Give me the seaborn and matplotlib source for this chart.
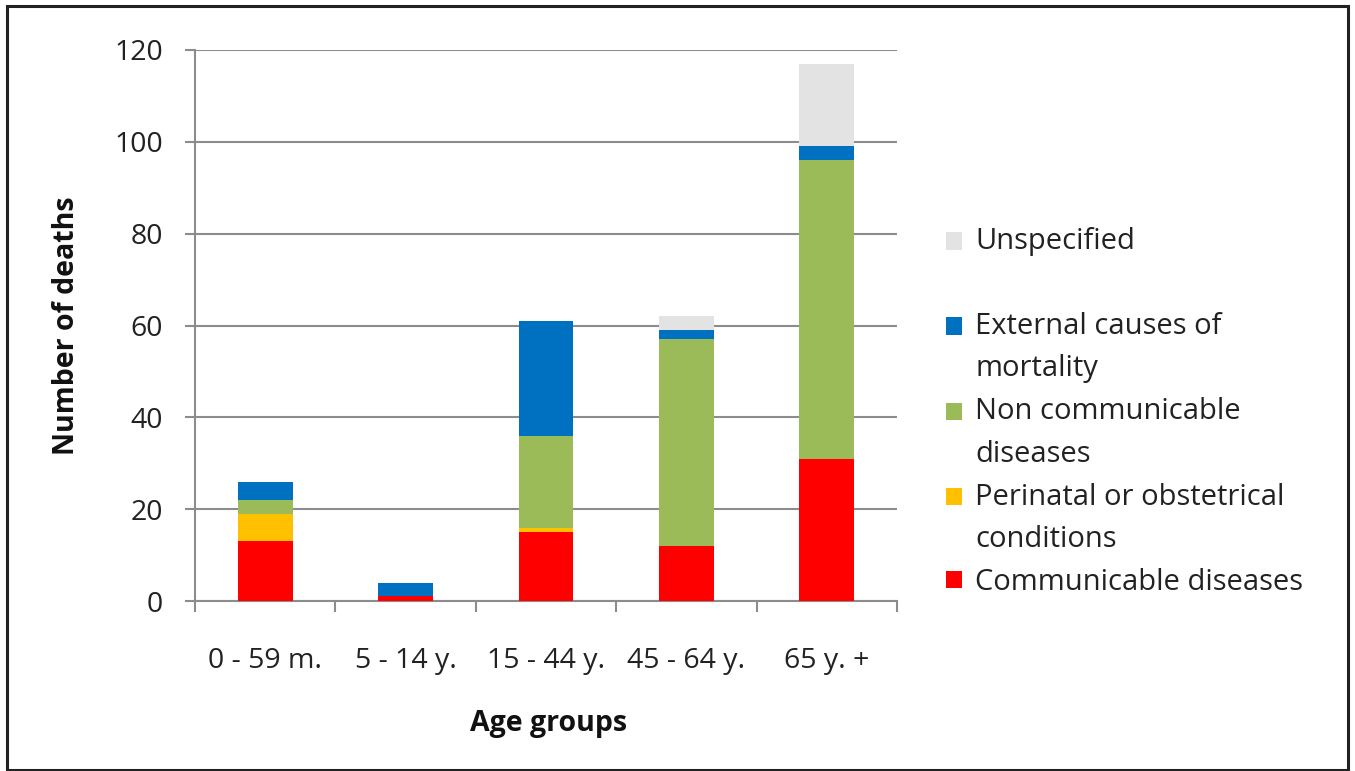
import numpy as np
import pandas as pd
import seaborn as sns
import matplotlib.pyplot as plt
from matplotlib.patches import Patch, Rectangle
from matplotlib.legend_handler import HandlerPatch

sns.set_theme(style="white")
plt.rcParams['font.family'] = ['Open Sans', 'DejaVu Sans']

age_groups = ["0 - 59 m.", "5 - 14 y.", "15 - 44 y.", "45 - 64 y.", "65 y. +"]
communicable = [13, 1, 15, 12, 31]
perinatal = [6, 0, 1, 0, 0]
non_communicable = [3, 0, 20, 45, 65]
external = [4, 3, 25, 2, 3]
unspecified = [0, 0, 0, 3, 18]

series = ["Communicable diseases", "Perinatal or obstetrical conditions",
          "Non communicable diseases", "External causes of mortality", "Unspecified"]
colors = ["#ff0000", "#ffc000", "#9bbb59", "#0070c0", "#e3e3e3"]

df = pd.DataFrame({
    "age": age_groups,
    series[0]: communicable,
    series[1]: perinatal,
    series[2]: non_communicable,
    series[3]: external,
    series[4]: unspecified,
})
cum = df[series].cumsum(axis=1)


class TopPatch(HandlerPatch):
    # put the square next to the first line of a two-line label
    def __init__(self, shift=0):
        super().__init__()
        self.shift = shift

    def create_artists(self, legend, orig_handle, xdescent, ydescent,
                       width, height, fontsize, trans):
        p = Rectangle((-xdescent, -ydescent + self.shift), width, height,
                      facecolor=orig_handle.get_facecolor(), edgecolor="none",
                      transform=trans)
        return [p]


FS = 20.5
fig = plt.figure(figsize=(13.55, 7.71), dpi=100)
ax = fig.add_axes([195 / 1355, 1 - 601 / 771, 702 / 1355, 551 / 771])

# stacked bars: draw cumulative totals from top series down
for s, c in zip(series[::-1], colors[::-1]):
    sns.barplot(x=df["age"], y=cum[s], color=c, width=0.39, ax=ax,
                saturation=1, linewidth=0, zorder=3)

grid_c = "#8c8c8c"
ax.set_ylim(0, 120)
ax.set_xlim(-0.5, 4.5)
ax.set_yticks(np.arange(0, 121, 20))
ax.yaxis.grid(True, color=grid_c, linewidth=1.5, zorder=0)
ax.set_axisbelow(True)
for side in ["top", "right"]:
    ax.spines[side].set_visible(False)
for side in ["left", "bottom"]:
    ax.spines[side].set_color(grid_c)
    ax.spines[side].set_linewidth(1.5)

ax.tick_params(axis="y", which="major", length=7, width=1.5, color=grid_c,
               pad=16, labelsize=FS, labelcolor="#222222", left=True)
ax.set_xticks(range(5))
ax.set_xticklabels(age_groups)
ax.set_xticks(np.arange(-0.5, 5, 1), minor=True)
ax.tick_params(axis="x", which="major", length=0, pad=33, labelsize=FS,
               labelcolor="#222222")
ax.tick_params(axis="x", which="minor", length=8, width=1.5, color=grid_c,
               bottom=True)

ax.set_xlabel("Age groups", fontsize=20.5, fontweight="bold", color="#111111")
ax.set_ylabel("Number of deaths", fontsize=20.5, fontweight="bold", color="#111111")
ax.xaxis.set_label_coords(0.504, -0.196)
ax.yaxis.set_label_coords(-0.162, 0.5)

handles = [Patch(facecolor=c, edgecolor="none") for c in colors[::-1]]
labels = ["Unspecified\n ", "External causes of\nmortality",
          "Non communicable\ndiseases", "Perinatal or obstetrical\nconditions",
          "Communicable diseases"]
hmap = {h: TopPatch(16 if "\n" in l else 0) for h, l in zip(handles, labels)}
leg = fig.legend(handles, labels, loc="upper left",
                 bbox_to_anchor=(946 / 1355, 1 - 227 / 771), handler_map=hmap,
                 frameon=False, fontsize=21, handlelength=0.55, handleheight=0.55,
                 handletextpad=0.45, labelspacing=0.48, borderpad=0, borderaxespad=0)
for t in leg.get_texts():
    t.set_linespacing(1.6)
    t.set_color("#222222")

fig.patches.append(Rectangle((7 / 1355, 1 / 771), 1341 / 1355, 764 / 771,
                             transform=fig.transFigure, fill=False,
                             edgecolor="#222222", linewidth=2.2))

fig.savefig("out.png", dpi=100)
